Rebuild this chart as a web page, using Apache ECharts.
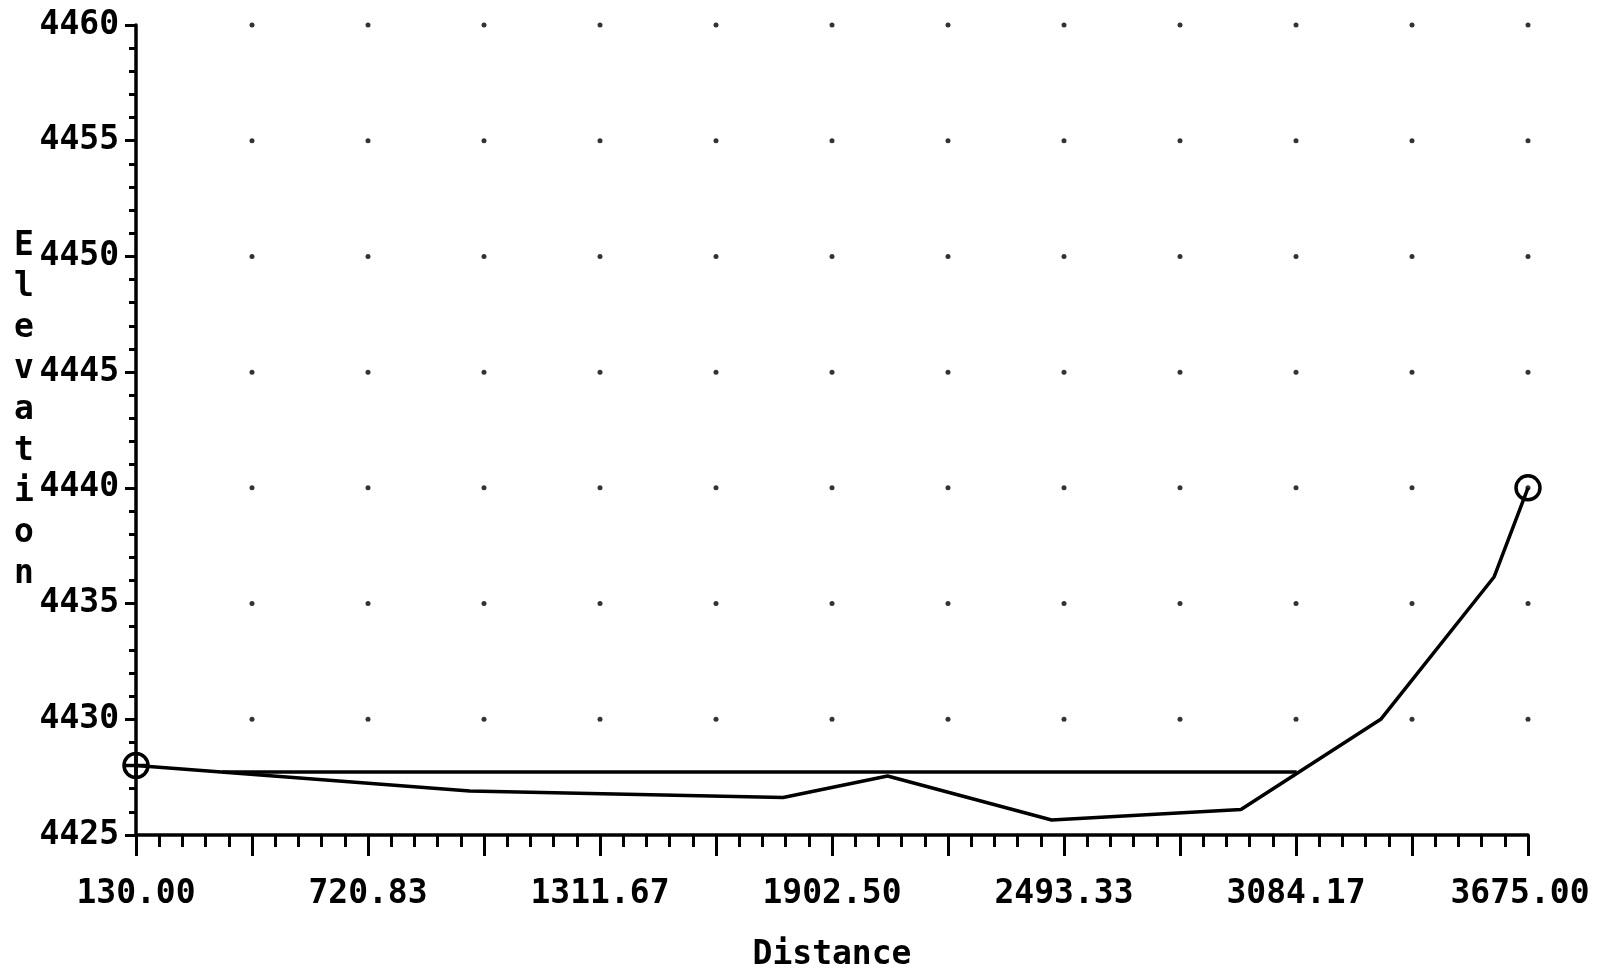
<!DOCTYPE html>
<html>
<head>
<meta charset="utf-8">
<title>Elevation profile</title>
<script src="https://cdn.jsdelivr.net/npm/echarts@6/dist/echarts.min.js"></script>
<style>
  html, body { margin: 0; padding: 0; background: #ffffff; }
  #chart { width: 1597px; height: 968px; }
</style>
</head>
<body>
<div id="chart"></div>
<script>
// Distance / elevation pairs along the surveyed ground profile
const profileDistance = [130, 980, 1778, 2044, 2462, 2944, 3300, 3589, 3675];
const profileElevation = [4428.0, 4426.9, 4426.62, 4427.55, 4425.65, 4426.1, 4430.0, 4436.16, 4440.0];

// Horizontal level line across the low section
const levelDistance = [350, 3086];
const levelElevation = [4427.72, 4427.72];

// Axis ranges and tick labels
const xMin = 130;
const xMax = 3675;
const xSteps = 12;
const xTickLabels = ['130.00', '720.83', '1311.67', '1902.50', '2493.33', '3084.17', '3675.00'];
const yMin = 4425;
const yMax = 4460;
const yStep = 5;
const yTickLabels = ['4425', '4430', '4435', '4440', '4445', '4450', '4455', '4460'];

const xStep = (xMax - xMin) / xSteps;
const FONT = '"DejaVu Sans Mono", "Liberation Mono", monospace';
const FONT_SIZE = 33;

// Dotted grid: one dot at every major x tick on every labelled y level above the axis
const gridDots = [];
for (let k = 1; k <= xSteps; k++) {
  for (let j = 1; j < yTickLabels.length; j++) {
    gridDots.push([xMin + k * xStep, Number(yTickLabels[j])]);
  }
}

const profileData = profileDistance.map((d, i) => {
  const item = { value: [d, profileElevation[i]] };
  if (i === 0) {
    // start point: circle with a cross through it
    item.symbol = 'path://M12,0A12,12,0,1,1,12,24A12,12,0,1,1,12,0ZM0,12L24,12M12,0L12,24';
    item.symbolSize = 24;
  } else if (i === profileDistance.length - 1) {
    item.symbol = 'circle';
    item.symbolSize = 24;
  }
  return item;
});

const levelData = levelDistance.map((d, i) => [d, levelElevation[i]]);

const labelText = { color: '#000', fontFamily: FONT, fontWeight: 'bold', fontSize: FONT_SIZE };

const chart = echarts.init(document.getElementById('chart'), null, { renderer: 'canvas' });

chart.setOption({
  backgroundColor: '#ffffff',
  animation: false,
  grid: { left: 136, right: 69, top: 25, bottom: 133, containLabel: false, outerBoundsMode: 'none' },
  xAxis: {
    type: 'value',
    min: xMin,
    max: xMax,
    interval: xStep,
    name: 'Distance',
    nameLocation: 'middle',
    nameGap: 104,
    nameTextStyle: labelText,
    axisLine: { show: true, onZero: false, lineStyle: { color: '#000', width: 3.5 } },
    axisTick: { show: true, length: 21, lineStyle: { color: '#000', width: 3 } },
    minorTick: { show: true, splitNumber: 5, length: 12, lineStyle: { color: '#000', width: 3 } },
    splitLine: { show: false },
    minorSplitLine: { show: false },
    axisLabel: Object.assign({
      margin: 43,
      formatter: function (v) {
        const k = Math.round((v - xMin) / xStep);
        if (k % 2 !== 0) return '';
        const text = xTickLabels[k / 2] || '';
        // keep the last label inside the canvas edge
        return k === xSteps ? '{last|' + text + '}' : text;
      },
      rich: { last: Object.assign({ padding: [0, 16, 0, 0] }, labelText) }
    }, labelText)
  },
  yAxis: {
    type: 'value',
    min: yMin,
    max: yMax,
    interval: yStep,
    axisLine: { show: true, onZero: false, lineStyle: { color: '#000', width: 3.5 } },
    axisTick: { show: true, length: 11, lineStyle: { color: '#000', width: 3 } },
    minorTick: { show: true, splitNumber: 5, length: 7, lineStyle: { color: '#000', width: 3 } },
    splitLine: { show: false },
    minorSplitLine: { show: false },
    axisLabel: Object.assign({
      margin: 17,
      formatter: function (v) {
        const j = Math.round((v - yMin) / yStep);
        return yTickLabels[j] || '';
      }
    }, labelText)
  },
  graphic: [{
    type: 'text',
    x: 24,
    y: 226,
    style: {
      text: 'E\nl\ne\nv\na\nt\ni\no\nn',
      font: 'bold ' + FONT_SIZE + 'px ' + FONT,
      fill: '#000',
      align: 'center',
      verticalAlign: 'top',
      lineHeight: 41
    }
  }],
  series: [
    {
      name: 'grid',
      type: 'scatter',
      data: gridDots,
      symbol: 'circle',
      symbolSize: 5,
      itemStyle: { color: '#000' },
      silent: true,
      z: 1
    },
    {
      name: 'level',
      type: 'line',
      data: levelData,
      symbol: 'none',
      lineStyle: { color: '#000', width: 3.5 },
      silent: true,
      clip: false,
      z: 3
    },
    {
      name: 'profile',
      type: 'line',
      data: profileData,
      symbol: 'none',
      showSymbol: true,
      color: '#000',
      itemStyle: { color: 'rgba(0,0,0,0)', borderColor: '#000', borderWidth: 3.5 },
      lineStyle: { color: '#000', width: 3.5 },
      silent: true,
      clip: false,
      z: 4
    }
  ]
});
</script>
</body>
</html>
